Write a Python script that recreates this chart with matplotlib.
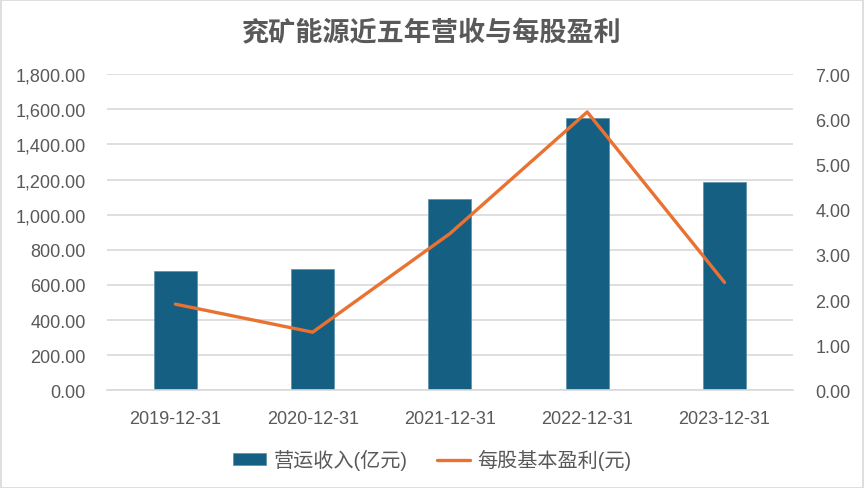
import numpy as np
import matplotlib.pyplot as plt
from matplotlib.patches import Rectangle

plt.rcParams['font.family'] = ['Liberation Sans', 'Noto Sans CJK SC', 'DejaVu Sans']

dates = ["2019-12-31", "2020-12-31", "2021-12-31", "2022-12-31", "2023-12-31"]
revenue = [679, 690, 1087, 1551, 1187]  # 营运收入(亿元)
eps = [1.91, 1.29, 3.47, 6.16, 2.39]  # 每股基本盈利(元)

bar_color = "#156082"
line_color = "#E97132"
text_color = "#595959"
grid_color = "#D9D9D9"

fig = plt.figure(figsize=(8.64, 4.89), dpi=100)
fig.patches.append(Rectangle((0.001, 0.001), 0.998, 0.997, transform=fig.transFigure,
                             fill=False, edgecolor=grid_color, linewidth=1.2))

ax = fig.add_axes([0.1235, 0.1994, 0.7945, 0.6472])
x = np.arange(len(dates))
ax.bar(x, revenue, width=0.313, color=bar_color, edgecolor="#5B8FA8", linewidth=0.5,
       label="营运收入(亿元)", zorder=2)
ax.set_xlim(-0.5, len(dates) - 0.5)
ax.set_ylim(0, 1800)
ax.set_yticks(np.arange(0, 1801, 200))
ax.set_yticklabels(["{:,.2f}".format(v) for v in np.arange(0, 1801, 200)])
ax.set_xticks(x)
ax.set_xticklabels(dates)
ax.yaxis.grid(True, color=grid_color, linewidth=1.2, zorder=0)
ax.set_axisbelow(True)
for s in ax.spines.values():
    s.set_visible(False)
ax.spines['bottom'].set_visible(True)
ax.spines['bottom'].set_color(grid_color)
ax.spines['bottom'].set_linewidth(1.2)
ax.tick_params(axis='both', length=0, labelsize=13, labelcolor=text_color)
ax.tick_params(axis='y', pad=15)
ax.tick_params(axis='x', pad=14)

ax2 = ax.twinx()
ax2.plot(x, eps, color=line_color, linewidth=2.4, solid_joinstyle='round',
         solid_capstyle='round', label="每股基本盈利(元)", zorder=3)
ax2.set_ylim(0, 7)
ax2.set_yticks(np.arange(0, 8, 1))
ax2.set_yticklabels(["{:.2f}".format(v) for v in np.arange(0, 8, 1)])
for s in ax2.spines.values():
    s.set_visible(False)
ax2.tick_params(axis='y', length=0, labelsize=13, labelcolor=text_color, pad=16)

fig.text(0.5, 0.93, "兖矿能源近五年营收与每股盈利", ha='center', va='center',
         fontsize=19.5, fontweight='bold', color=text_color)

h1, l1 = ax.get_legend_handles_labels()
h2, l2 = ax2.get_legend_handles_labels()
leg = fig.legend(h1 + h2, l1 + l2, loc='center', bbox_to_anchor=(0.5, 0.058), ncol=2,
                 frameon=False, fontsize=14.5, handlelength=1.65, handleheight=0.55,
                 handletextpad=0.35, columnspacing=1.45)
for t in leg.get_texts():
    t.set_color(text_color)

fig.savefig("out.png", dpi=100)
